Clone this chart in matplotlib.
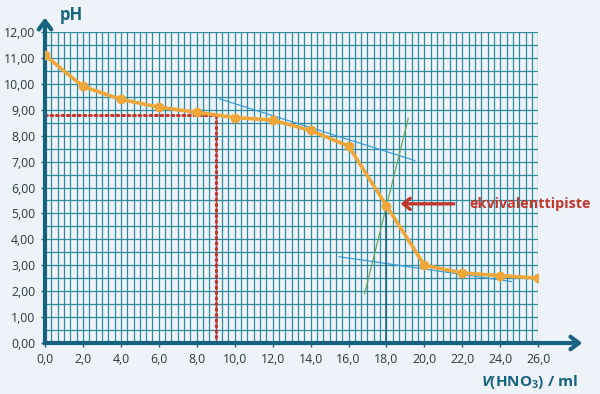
import matplotlib
matplotlib.use('Agg')
import numpy as np
import matplotlib.pyplot as plt

plt.rcParams['font.family'] = ['Open Sans', 'DejaVu Sans']
plt.rcParams['mathtext.fontset'] = 'custom'
plt.rcParams['mathtext.rm'] = 'Open Sans'
plt.rcParams['mathtext.bf'] = 'Open Sans:bold'
plt.rcParams['mathtext.it'] = 'Open Sans:italic'
plt.rcParams['mathtext.bfit'] = 'Open Sans:italic:bold'

# titration data
volume = [0, 2, 4, 6, 8, 10, 12, 14, 16, 18, 20, 22, 24, 26]
ph = [11.1, 9.9, 9.4, 9.1, 8.9, 8.7, 8.6, 8.2, 7.6, 5.3, 3.0, 2.7, 2.6, 2.5]

# construction lines
upper_tangent_x = [9.2, 19.5]
upper_tangent_y = [9.42, 7.04]
lower_tangent_x = [15.5, 24.6]
lower_tangent_y = [3.33, 2.37]
mid_line_x = [16.85, 19.15]
mid_line_y = [1.9, 8.67]
eq_volume = 18.0
eq_ph = 5.3
half_volume = 9.0
half_ph = 8.8

x_ticks = list(range(0, 27, 2))
y_ticks = list(range(0, 13))
x_labels = [f'{v:.1f}'.replace('.', ',') for v in x_ticks]
y_labels = [f'{v:.2f}'.replace('.', ',') for v in y_ticks]

bg = '#eef3fa'
axis_col = '#17627f'
grid_col = '#2f8a9c'
orange = '#f0a73a'
red = '#c4372c'

fig = plt.figure(figsize=(6, 3.94), dpi=100, facecolor=bg)
ax = fig.add_axes([0.075, 0.1294, 0.822, 0.7894])
ax.set_facecolor(bg)
ax.set_xlim(0, 26)
ax.set_ylim(0, 12)

ax.set_xticks(x_ticks)
ax.set_xticklabels(x_labels)
ax.set_yticks(y_ticks)
ax.set_yticklabels(y_labels)
ax.set_xticks(np.arange(0, 78) / 3, minor=True)
ax.set_yticks(np.arange(0, 24) / 2, minor=True)
ax.grid(True, which='both', color=grid_col, linewidth=0.9)
ax.set_axisbelow(True)
ax.tick_params(which='minor', length=0)
ax.tick_params(which='major', length=3, width=1, color=axis_col,
               labelsize=8.8, labelcolor='#2a3640', pad=4)

for side in ['top', 'right']:
    ax.spines[side].set_visible(False)
for side in ['left', 'bottom']:
    ax.spines[side].set_color(axis_col)
    ax.spines[side].set_linewidth(3)

# axis arrows
ax.annotate('', xy=(0, 1.055), xytext=(0, 0.99), xycoords='axes fraction',
            arrowprops=dict(arrowstyle='->,head_length=0.6,head_width=0.45',
                            color=axis_col, lw=3), annotation_clip=False)
ax.annotate('', xy=(1.095, 0), xytext=(0.99, 0), xycoords='axes fraction',
            arrowprops=dict(arrowstyle='->,head_length=0.6,head_width=0.45',
                            color=axis_col, lw=3), annotation_clip=False)

# red dotted guides
ax.plot([0, half_volume], [half_ph, half_ph], color=red, lw=2.2,
        linestyle=(0, (0.6, 1.2)), dash_capstyle='round')
ax.plot([half_volume, half_volume], [0, half_ph], color=red, lw=2.2,
        linestyle=(0, (0.6, 1.2)), dash_capstyle='round')

# tangents
ax.plot(upper_tangent_x, upper_tangent_y, color='#3b9bd6', lw=0.9)
ax.plot(lower_tangent_x, lower_tangent_y, color='#3b9bd6', lw=0.9)
ax.plot(mid_line_x, mid_line_y, color='#6aa55a', lw=0.9)
ax.plot([eq_volume, eq_volume], [0, eq_ph], color=axis_col, lw=1.1)

# curve
ax.plot(volume, ph, color=orange, lw=2.6, marker='o', markersize=6,
        solid_joinstyle='round', zorder=5)

# equivalence annotation
ax.annotate('', xy=(18.6, 5.37), xytext=(21.7, 5.37),
            arrowprops=dict(arrowstyle='->,head_length=0.5,head_width=0.4',
                            color=red, lw=2.4))
ax.text(22.35, 5.37, 'ekvivalenttipiste', color=red, fontsize=10.4,
        fontweight='bold', va='center', ha='left')

fig.text(0.1, 0.962, 'pH', color=axis_col, fontsize=12, fontweight='bold',
         va='center', ha='left')
fig.text(0.963, 0.03, r'$\mathbfit{V}$(HNO$_\mathbf{3}$) / ml', color=axis_col,
         fontsize=11, fontweight='bold', va='center', ha='right')

fig.savefig('out.png', dpi=100, facecolor=bg)
